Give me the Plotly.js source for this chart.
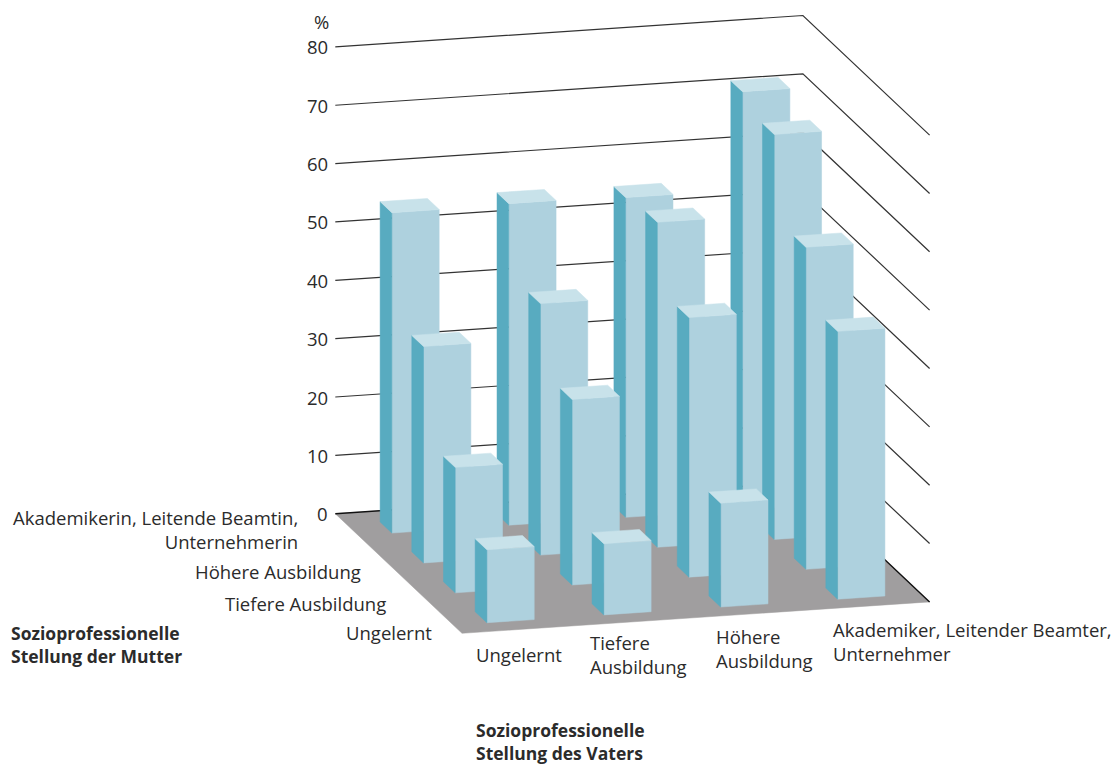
<!DOCTYPE html>
<html>
<head>
<meta charset="utf-8">
<script src="https://cdn.plot.ly/plotly-3.0.1.min.js"></script>
<style>html,body{margin:0;padding:0;background:#fff}#chart{width:1115px;height:765px}</style>
</head>
<body>
<div id="chart"></div>
<script>
// Share in percent by the socio-professional position of father and mother.
const fatherCategories = ['Ungelernt', 'Tiefere Ausbildung', 'Höhere Ausbildung', 'Akademiker, Leitender Beamter, Unternehmer'];
const motherCategories = ['Ungelernt', 'Tiefere Ausbildung', 'Höhere Ausbildung', 'Akademikerin, Leitende Beamtin, Unternehmerin'];
const motherUngelernt = [12.5, 12.2, 17.8, 45.9];
const motherTiefere = [21.5, 31.8, 44.5, 55.2];
const motherHoehere = [37.1, 43.1, 55.7, 69.4];
const motherAkademikerin = [54.9, 55.1, 54.8, 71.6];
const percentTicks = [0, 10, 20, 30, 40, 50, 60, 70, 80];

const rows = [motherUngelernt, motherTiefere, motherHoehere, motherAkademikerin];

// Oblique projection of (father, mother, percent) onto the plotting plane.
const ORIGIN = [462, 633.3];
const FATHER_STEP = [116.9, -7.85];
const MOTHER_STEP = [-31.675, -29.9];
const PERCENT_STEP = -5.835;
const project = (f, m, p) => [
  ORIGIN[0] + f * FATHER_STEP[0] + m * MOTHER_STEP[0],
  ORIGIN[1] + f * FATHER_STEP[1] + m * MOTHER_STEP[1] + p * PERCENT_STEP
];

// Draws a closed polygon from (father, mother, percent) corners.
function face(corners, color) {
  const pts = corners.map(c => project(c[0], c[1], c[2]));
  pts.push(pts[0]);
  return {
    type: 'scatter', mode: 'lines', x: pts.map(p => p[0]), y: pts.map(p => p[1]),
    fill: 'toself', fillcolor: color, line: {color, width: 0.5}, hoverinfo: 'skip'
  };
}

const FLOOR = '#a09e9f', FRONT = '#aed1de', SIDE = '#58abc0', TOP = '#c8e2ea', GRID = '#333333';
const BAR_W = 0.405, BAR_D = 0.37, BAR_OFFSET_F = 0.288, BAR_OFFSET_M = 0.278;
const N = fatherCategories.length;
const traces = [];

traces.push(face([[0, 0, 0], [N, 0, 0], [N, N, 0], [0, N, 0]], FLOOR));

percentTicks.forEach(p => {
  const pts = [project(0, N, p), project(N, N, p), project(N, 0, p)];
  traces.push({
    type: 'scatter', mode: 'lines', x: pts.map(q => q[0]), y: pts.map(q => q[1]),
    line: {color: p === 0 ? '#111111' : GRID, width: p === 0 ? 1.4 : 1.2}, hoverinfo: 'skip'
  });
});

// Back rows first so nearer bars cover them.
for (let m = rows.length - 1; m >= 0; m--) {
  rows[m].forEach((v, f) => {
    const f0 = f + BAR_OFFSET_F, f1 = f0 + BAR_W;
    const m0 = m + BAR_OFFSET_M, m1 = m0 + BAR_D;
    traces.push(face([[f0, m0, 0], [f1, m0, 0], [f1, m0, v], [f0, m0, v]], FRONT));
    traces.push(face([[f0, m0, 0], [f0, m1, 0], [f0, m1, v], [f0, m0, v]], SIDE));
    traces.push(face([[f0, m0, v], [f1, m0, v], [f1, m1, v], [f0, m1, v]], TOP));
  });
}

const textColor = '#2b2b2b';
const fontFamily = '"Open Sans", sans-serif';
const label = (text, x, y, xanchor, bold) => ({
  text: bold ? '<b>' + text + '</b>' : text, xref: 'x', yref: 'y', x, y,
  xanchor, yanchor: 'middle', align: xanchor, showarrow: false,
  font: {family: fontFamily, size: bold ? 17.5 : 18.5, color: textColor}
});

const tickAnnotations = percentTicks.map(p => {
  const q = project(0, N, p);
  return label(String(p), q[0] - 5, q[1], 'right');
});

const layout = {
  width: 1115, height: 765, margin: {l: 0, r: 0, t: 0, b: 0},
  paper_bgcolor: '#fff', plot_bgcolor: '#fff', showlegend: false,
  xaxis: {visible: false, range: [0, 1115], fixedrange: true},
  yaxis: {visible: false, range: [765, 0], fixedrange: true},
  annotations: tickAnnotations.concat([
    label('%', 331, 21, 'right'),
    label(motherCategories[3].replace('Beamtin, ', 'Beamtin,<br>'), 300, 529, 'right'),
    label(motherCategories[2], 363, 571, 'right'),
    label(motherCategories[1], 388, 603, 'right'),
    label(motherCategories[0], 434, 632, 'right'),
    label('Sozioprofessionelle<br>Stellung der Mutter', 9, 644, 'left', true),
    label(fatherCategories[0], 474, 654, 'left'),
    label(fatherCategories[1].replace(' ', '<br>'), 588, 654, 'left'),
    label(fatherCategories[2].replace(' ', '<br>'), 714, 648, 'left'),
    label(fatherCategories[3].replace('Beamter, ', 'Beamter,<br>'), 831, 641, 'left'),
    label('Sozioprofessionelle<br>Stellung des Vaters', 474, 741, 'left', true)
  ])
};

Plotly.newPlot('chart', traces, layout, {displayModeBar: false, staticPlot: true});
</script>
</body>
</html>
